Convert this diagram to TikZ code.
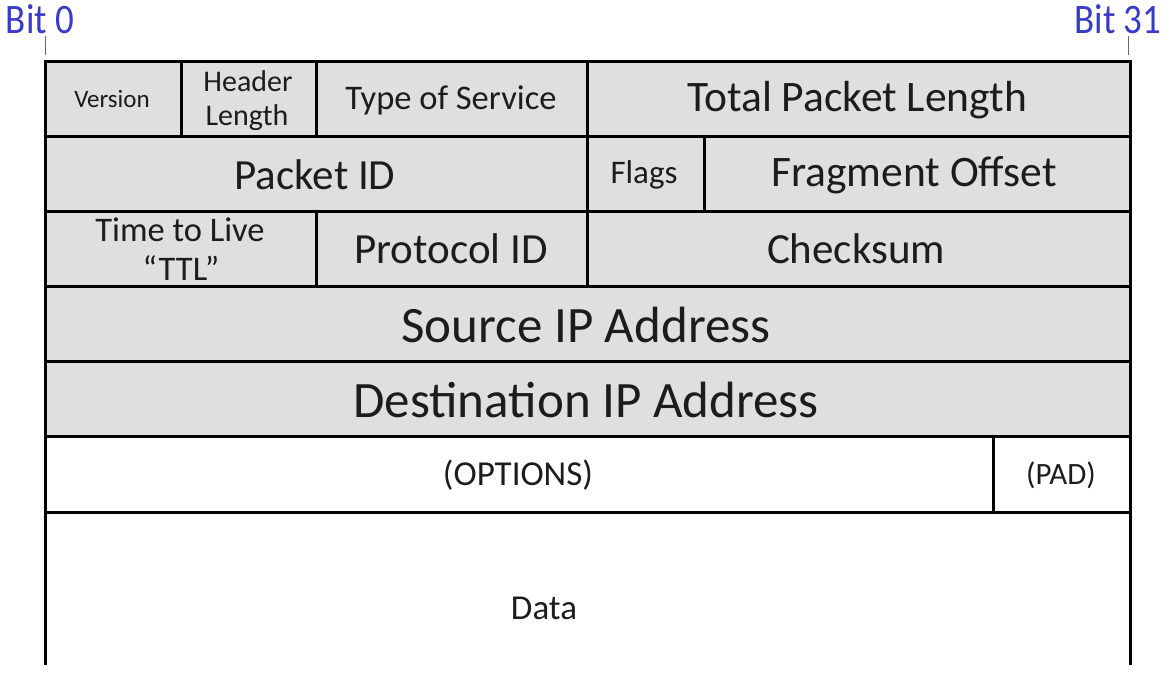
\documentclass[tikz,border=0pt]{standalone}
\usepackage{fontspec}
\setmainfont{Carlito}
\definecolor{cellgray}{HTML}{DFDFDF}
\definecolor{bitblue}{HTML}{3A3AC8}
\definecolor{ink}{HTML}{1C1C1C}
\begin{document}
\begin{tikzpicture}[x=1pt,y=-1pt,
  cell/.style={draw=black,line width=3pt,fill=cellgray},
  wcell/.style={draw=black,line width=3pt,fill=white},
  lab/.style={inner sep=0pt,align=center,text=ink},
  fs/.style={font=\fontsize{#1}{#1}\selectfont},
  bit/.style={inner sep=0pt,text=bitblue,font=\fontsize{42}{42}\selectfont},
  tick/.style={draw=black!60,line width=1pt}]
\useasboundingbox (0,0) rectangle (1170,690);
% row 1
\path[cell] (45,62) rectangle (181,137);
\path[cell] (181,62) rectangle (316,137);
\path[cell] (316,62) rectangle (587,137);
\path[cell] (587,62) rectangle (1130,137);
% row 2
\path[cell] (45,137) rectangle (587,211);
\path[cell] (587,137) rectangle (704,211);
\path[cell] (704,137) rectangle (1130,211);
% row 3
\path[cell] (45,211) rectangle (316,286);
\path[cell] (316,211) rectangle (587,286);
\path[cell] (587,211) rectangle (1130,286);
% rows 4,5
\path[cell] (45,286) rectangle (1130,361);
\path[cell] (45,361) rectangle (1130,436);
% row 6
\path[wcell] (45,436) rectangle (993,512);
\path[wcell] (993,436) rectangle (1130,512);
% data sides
\coordinate (dl) at (45,512);
\coordinate (dlb) at (45,665);
\coordinate (dr) at (1130,512);
\coordinate (drb) at (1130,665);
\draw[line width=3pt] (dl) -- (dlb);
\draw[line width=3pt] (dr) -- (drb);
% labels
\node[lab,fs=25] (ver) at (112,99) {Version};
\node[lab,fs=30] (hl1) at (248,81) {Header};
\node[lab,fs=30] (hl2) at (247,118) {Length};
\node[lab,fs=34.5] (tos) at (451,100) {Type of Service};
\node[lab,fs=43.5] (tpl) at (857,100) {Total Packet Length};
\node[lab,fs=43] (pid) at (315,175) {Packet ID};
\node[lab,fs=33] (flg) at (644,175) {Flags};
\node[lab,fs=43.5] (fro) at (914,175) {Fragment Offset};
\node[lab,fs=34.5] (ttl1) at (180,230) {Time to Live};
\node[lab,fs=34.5] (ttl2) at (181,268) {``TTL''};
\node[lab,fs=43] (prt) at (451,249) {Protocol ID};
\node[lab,fs=43] (chk) at (856,249) {Checksum};
\node[lab,fs=51] (src) at (586,325) {Source IP Address};
\node[lab,fs=51] (dst) at (586,400) {Destination IP Address};
\node[lab,fs=35] (opt) at (518,475) {(OPTIONS)};
\node[lab,fs=31] (pad) at (1061,475) {(PAD)};
\node[lab,fs=35] (dat) at (544,608) {Data};
% bit markers
\node[bit] (b0) at (40,19) {\scalebox{0.88}[1]{Bit 0}};
\node[bit] (b31) at (1118,19) {\scalebox{0.88}[1]{Bit 31}};
\coordinate (t0a) at (45,36);
\coordinate (t0b) at (45,55);
\coordinate (t31a) at (1128,36);
\coordinate (t31b) at (1128,55);
\draw[tick] (t0a) -- (t0b);
\draw[tick] (t31a) -- (t31b);
\end{tikzpicture}
\end{document}
